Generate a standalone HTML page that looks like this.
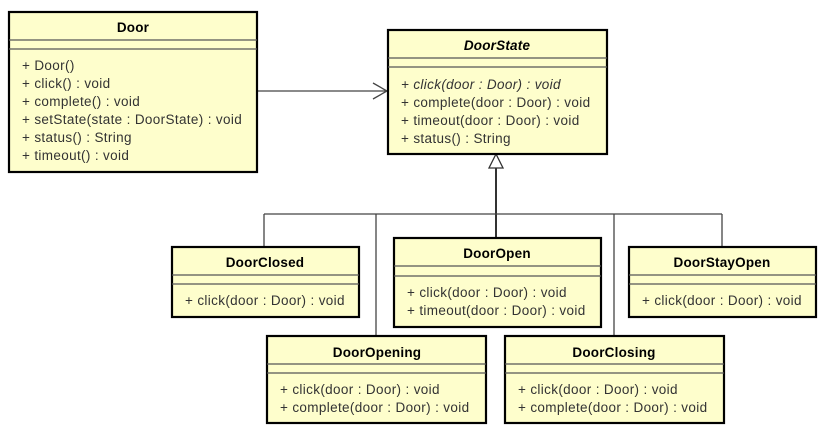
<!DOCTYPE html>
<html><head><meta charset="utf-8"><style>
html,body{margin:0;padding:0;background:#fff;}
svg{display:block;}
text{font-family:"Liberation Sans",Arial,sans-serif;font-size:13.5px;letter-spacing:0.35px;fill:#333;}
.t{font-weight:bold;fill:#000;font-size:13.5px;letter-spacing:0.2px;}
rect.b{fill:#fefecc;stroke:#000;stroke-width:2.2;}
line.s{stroke:#555;stroke-width:1.2;}
line.c{stroke:#444;stroke-width:1.3;}
</style></head><body>
<svg width="829" height="439" viewBox="0 0 829 439" xmlns="http://www.w3.org/2000/svg">
<line class="c" x1="257" y1="91" x2="386" y2="91"/>
<polyline points="373,83 387,91 373,99" fill="none" stroke="#444" stroke-width="1.3"/>
<polygon points="496,154 489,168 503,168" fill="#fff" stroke="#333" stroke-width="1.3"/>
<line x1="496" y1="168" x2="496" y2="238" stroke="#333" stroke-width="2"/>
<line class="c" x1="264" y1="214" x2="722" y2="214"/>
<line class="c" x1="264" y1="214" x2="264" y2="247"/>
<line class="c" x1="376" y1="214" x2="376" y2="336"/>
<line class="c" x1="614" y1="214" x2="614" y2="336"/>
<line class="c" x1="722" y1="214" x2="722" y2="247"/>

<rect class="b" x="9" y="12" width="248" height="160"/>
<line class="s" x1="9" y1="40" x2="257" y2="40"/><line class="s" x1="9" y1="49" x2="257" y2="49"/>
<text class="t" x="133" y="32" text-anchor="middle">Door</text>
<text x="22" y="70">+ Door()</text>
<text x="22" y="88">+ click() : void</text>
<text x="22" y="106">+ complete() : void</text>
<text x="22" y="124">+ setState(state : DoorState) : void</text>
<text x="22" y="142">+ status() : String</text>
<text x="22" y="160">+ timeout() : void</text>

<rect class="b" x="388" y="30" width="219" height="124"/>
<line class="s" x1="388" y1="58" x2="607" y2="58"/><line class="s" x1="388" y1="67" x2="607" y2="67"/>
<text class="t" x="497" y="50" text-anchor="middle" font-style="italic">DoorState</text>
<text x="401" y="89" font-style="italic">+ click(door : Door) : void</text>
<text x="401" y="107">+ complete(door : Door) : void</text>
<text x="401" y="125">+ timeout(door : Door) : void</text>
<text x="401" y="143">+ status() : String</text>

<rect class="b" x="172" y="247" width="187" height="70"/>
<line class="s" x1="172" y1="275" x2="359" y2="275"/><line class="s" x1="172" y1="284" x2="359" y2="284"/>
<text class="t" x="265" y="267" text-anchor="middle">DoorClosed</text>
<text x="185" y="305">+ click(door : Door) : void</text>

<rect class="b" x="394" y="238" width="207" height="89"/>
<line class="s" x1="394" y1="266" x2="601" y2="266"/><line class="s" x1="394" y1="276" x2="601" y2="276"/>
<text class="t" x="497" y="258" text-anchor="middle">DoorOpen</text>
<text x="407" y="297">+ click(door : Door) : void</text>
<text x="407" y="315">+ timeout(door : Door) : void</text>

<rect class="b" x="629" y="247" width="187" height="70"/>
<line class="s" x1="629" y1="275" x2="816" y2="275"/><line class="s" x1="629" y1="284" x2="816" y2="284"/>
<text class="t" x="722" y="267" text-anchor="middle">DoorStayOpen</text>
<text x="642" y="305">+ click(door : Door) : void</text>

<rect class="b" x="267" y="336" width="219" height="87"/>
<line class="s" x1="267" y1="364" x2="486" y2="364"/><line class="s" x1="267" y1="373" x2="486" y2="373"/>
<text class="t" x="377" y="357" text-anchor="middle">DoorOpening</text>
<text x="280" y="394">+ click(door : Door) : void</text>
<text x="280" y="412">+ complete(door : Door) : void</text>

<rect class="b" x="505" y="336" width="219" height="87"/>
<line class="s" x1="505" y1="364" x2="724" y2="364"/><line class="s" x1="505" y1="373" x2="724" y2="373"/>
<text class="t" x="614" y="357" text-anchor="middle">DoorClosing</text>
<text x="518" y="394">+ click(door : Door) : void</text>
<text x="518" y="412">+ complete(door : Door) : void</text>
</svg>
</body></html>
